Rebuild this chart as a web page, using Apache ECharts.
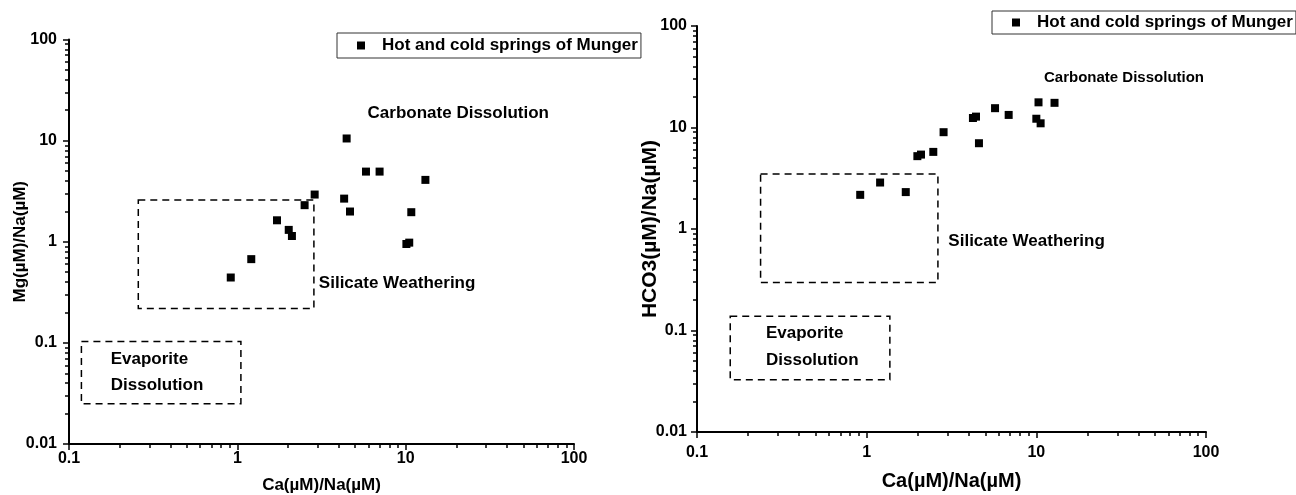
<!DOCTYPE html>
<html>
<head>
<meta charset="utf-8">
<title>Ca/Na vs Mg/Na and HCO3/Na</title>
<script src="https://cdn.jsdelivr.net/npm/echarts@6/dist/echarts.min.js"></script>
<style>
  html, body { margin: 0; padding: 0; background: #fff; }
  #chart { width: 1296px; height: 495px; }
</style>
</head>
<body>
<div id="chart"></div>
<script>
// left panel: Mg/Na against Ca/Na
var caLeft = [0.914, 1.21, 1.72, 2.02, 2.11, 2.51, 2.88, 4.31, 4.46, 4.67, 5.81, 7.0, 10.1, 10.5, 10.8, 13.1];
var mgNa   = [0.443, 0.673, 1.63, 1.31, 1.14, 2.30, 2.93, 2.67, 10.5, 1.99, 4.94, 4.94, 0.95, 0.98, 1.96, 4.09];

// right panel: HCO3/Na against Ca/Na
var caRight = [0.916, 1.20, 1.70, 1.99, 2.09, 2.47, 2.84, 4.23, 4.41, 4.59, 5.71, 6.87, 10.0, 10.3, 10.6, 12.8];
var hco3Na  = [2.17, 2.87, 2.31, 5.22, 5.41, 5.75, 8.99, 12.4, 12.8, 7.0, 15.5, 13.3, 12.2, 17.7, 11.0, 17.5];

// end-member boxes, [x1, y1, x2, y2] in data units
var silicateLeft  = [0.258, 2.58, 2.85, 0.219];
var evaporiteLeft = [0.1185, 0.103, 1.05, 0.025];
var silicateRight  = [0.237, 3.49, 2.63, 0.297];
var evaporiteRight = [0.157, 0.138, 1.37, 0.0328];

// annotation texts, anchored at their left-middle point
var notesLeft = [
  ['Carbonate Dissolution', 5.94, 18.7],
  ['Silicate Weathering', 3.05, 0.39],
  ['Evaporite', 0.177, 0.0692],
  ['Dissolution', 0.177, 0.0379]
];
var notesRight = [
  ['Carbonate Dissolution', 11.1, 30.6, 15],
  ['Silicate Weathering', 3.03, 0.753],
  ['Evaporite', 0.255, 0.0931],
  ['Dissolution', 0.255, 0.0505]
];

var seriesName = 'Hot and cold springs of Munger';
var FONT = '"Liberation Sans", Arial, sans-serif';

function minorTicks(lo, hi) {
  var out = [];
  for (var e = lo; e < hi; e++) {
    for (var k = 2; k <= 9; k++) out.push(parseFloat((k * Math.pow(10, e)).toPrecision(6)));
  }
  return out;
}

function pairs(xs, ys) {
  return xs.map(function (x, i) { return [x, ys[i]]; });
}

function box(b) {
  return [{ coord: [b[0], b[1]] }, { coord: [b[2], b[3]] }];
}

function notes(list) {
  return list.map(function (n) {
    return {
      name: n[0], coord: [n[1], n[2]],
      label: { fontSize: n[3] || 17 }
    };
  });
}

function mainX(grid, gap, nameSize, labelMargin) {
  return {
    type: 'log', gridIndex: grid, min: 0.1, max: 100, position: 'bottom',
    name: 'Ca(µM)/Na(µM)', nameLocation: 'middle', nameGap: gap,
    nameTextStyle: { fontSize: nameSize, fontWeight: 'bold', color: '#000', fontFamily: FONT },
    axisLine: { lineStyle: { color: '#000', width: 2 } },
    axisTick: { length: 6, lineStyle: { color: '#000', width: 1.5 } },
    axisLabel: { fontSize: 16, fontWeight: 'bold', color: '#000', margin: labelMargin, fontFamily: FONT },
    splitLine: { show: false }
  };
}

function minorX(grid) {
  return {
    type: 'log', gridIndex: grid, min: 0.1, max: 100, position: 'bottom',
    axisLine: { show: false },
    axisTick: { length: 4, customValues: minorTicks(-1, 2), lineStyle: { color: '#000', width: 1.5 } },
    axisLabel: { show: false },
    splitLine: { show: false }
  };
}

function mainY(grid, name, gap, nameSize, labelMargin) {
  return {
    type: 'log', gridIndex: grid, min: 0.01, max: 100, position: 'left',
    name: name, nameLocation: 'middle', nameGap: gap, nameMoveOverlap: false,
    nameTextStyle: { fontSize: nameSize, fontWeight: 'bold', color: '#000', fontFamily: FONT },
    axisLine: { lineStyle: { color: '#000', width: 2 } },
    axisTick: { length: 6, lineStyle: { color: '#000', width: 1.5 } },
    axisLabel: { fontSize: 16, fontWeight: 'bold', color: '#000', margin: labelMargin, fontFamily: FONT },
    splitLine: { show: false }
  };
}

function minorY(grid) {
  return {
    type: 'log', gridIndex: grid, min: 0.01, max: 100, position: 'left',
    axisLine: { show: false },
    axisTick: { length: 4, customValues: minorTicks(-2, 2), lineStyle: { color: '#000', width: 1.5 } },
    axisLabel: { show: false },
    splitLine: { show: false }
  };
}

function scatter(xIdx, yIdx, data, boxes, texts) {
  return {
    name: seriesName, type: 'scatter',
    xAxisIndex: xIdx, yAxisIndex: yIdx,
    symbol: 'rect', symbolSize: 8,
    itemStyle: { color: '#000', opacity: 1 },
    emphasis: { disabled: true },
    data: data,
    markArea: {
      silent: true,
      itemStyle: { color: 'rgba(0,0,0,0)', borderColor: '#000', borderWidth: 1.5, borderType: [7, 5] },
      data: boxes.map(box)
    },
    markPoint: {
      silent: true, symbol: 'circle', symbolSize: 0,
      label: {
        show: true, position: 'right', distance: 0, formatter: '{b}',
        color: '#000', fontWeight: 'bold', fontFamily: FONT
      },
      data: notes(texts)
    }
  };
}

function legend(left, top, pad) {
  return {
    left: left, top: top, padding: pad,
    icon: 'rect', itemWidth: 8, itemHeight: 8,
    borderColor: '#333', borderWidth: 1,
    selectedMode: false,
    data: [seriesName],
    itemStyle: { color: '#000', opacity: 1 },
    textStyle: { fontSize: 17, fontWeight: 'bold', color: '#000', fontFamily: FONT, padding: [0, 0, 0, 12] }
  };
}

var chart = echarts.init(document.getElementById('chart'));

var option = {
  animation: false,
  backgroundColor: '#fff',
  textStyle: { fontFamily: FONT },
  grid: [
    { left: 69, top: 39.5, width: 505, height: 404.5, outerBoundsMode: 'none', containLabel: false },
    { left: 697, top: 26, width: 509, height: 406, outerBoundsMode: 'none', containLabel: false }
  ],
  legend: [
    legend(337, 33, [4, 3, 4, 20]),
    legend(992, 11, [3, 3, 3, 20])
  ],
  xAxis: [mainX(0, 33, 17, 7), minorX(0), mainX(1, 39, 20, 13), minorX(1)],
  yAxis: [
    mainY(0, 'Mg(µM)/Na(µM)', 40, 17, 12), minorY(0),
    mainY(1, 'HCO3(µM)/Na(µM)', 36, 21, 10), minorY(1)
  ],
  series: [
    scatter(0, 0, pairs(caLeft, mgNa), [silicateLeft, evaporiteLeft], notesLeft),
    scatter(2, 2, pairs(caRight, hco3Na), [silicateRight, evaporiteRight], notesRight)
  ]
};

chart.setOption(option);
</script>
</body>
</html>
